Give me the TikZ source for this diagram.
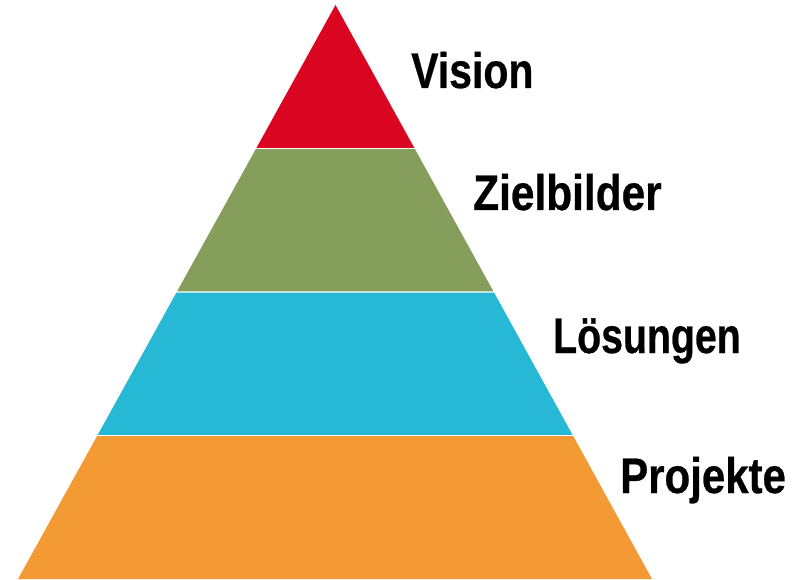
\documentclass[tikz,border=0pt]{standalone}
\usepackage{fontspec}
\setmainfont[BoldFeatures={FakeBold=0.6}]{Liberation Sans}
\usetikzlibrary{calc}
\definecolor{visred}{HTML}{DA0520}
\definecolor{zielgreen}{HTML}{859E5B}
\definecolor{loesblue}{HTML}{26B8D5}
\definecolor{projorange}{HTML}{F39A35}
\tikzset{
  layer/.style={draw=none},
  lbl/.style={anchor=base west, inner sep=0pt, font=\fontsize{50bp}{50bp}\selectfont\bfseries, text=black}
}
\begin{document}
\begin{tikzpicture}[x=1bp,y=-1bp]
\useasboundingbox (0,0) rectangle (792,580);
\coordinate (apex) at (335.5,5);
\coordinate (bl) at (18,579);
\coordinate (br) at (652,579);
\def\g{0.0009}
% red
\fill[layer, visred] (apex) -- ($(apex)!0.25-\g!(br)$) -- ($(apex)!0.25-\g!(bl)$) -- cycle;
% green
\fill[layer, zielgreen] ($(apex)!0.25+\g!(bl)$) -- ($(apex)!0.25+\g!(br)$) -- ($(apex)!0.5-\g!(br)$) -- ($(apex)!0.5-\g!(bl)$) -- cycle;
% blue
\fill[layer, loesblue] ($(apex)!0.5+\g!(bl)$) -- ($(apex)!0.5+\g!(br)$) -- ($(apex)!0.75-\g!(br)$) -- ($(apex)!0.75-\g!(bl)$) -- cycle;
% orange
\fill[layer, projorange] ($(apex)!0.75+\g!(bl)$) -- ($(apex)!0.75+\g!(br)$) -- (br) -- (bl) -- cycle;
\node[lbl] (vision) at (411,88) {\scalebox{0.82}[1]{Vision}};
\node[lbl] (ziel) at (473,210) {\scalebox{0.848}[1]{Zielbilder}};
\node[lbl] (loes) at (553,353) {\scalebox{0.785}[1]{Lösungen}};
\node[lbl] (proj) at (620,493) {\scalebox{0.84}[1]{Projekte}};
\end{tikzpicture}
\end{document}
